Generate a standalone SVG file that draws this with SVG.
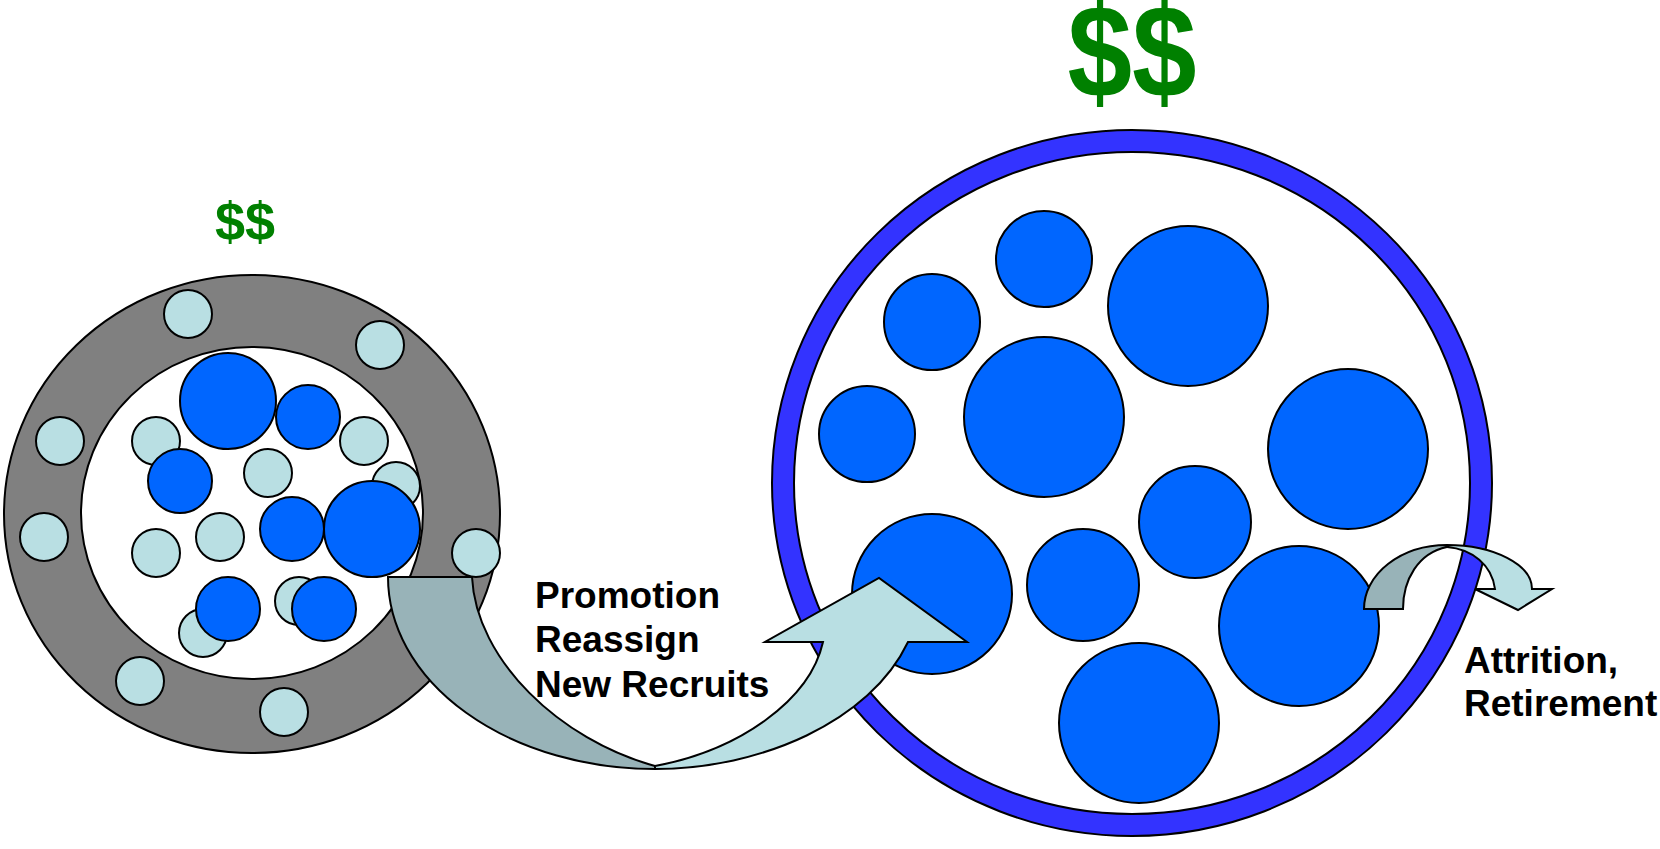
<svg xmlns="http://www.w3.org/2000/svg" width="1660" height="849" viewBox="0 0 1660 849">
  <style>
    .ln { stroke: #000; stroke-width: 2; }
    .gray { fill: #808080; }
    .white { fill: #FFFFFF; }
    .lite { fill: #B9DFE3; }
    .blue { fill: #0066FF; }
    .ring { fill: #3333FF; }
    .back { fill: #98B3B8; }
    .money { font-family: "Liberation Sans", Arial, sans-serif; font-weight: bold; fill: #008000; text-anchor: middle; }
    .lbl { font-family: "Liberation Sans", Arial, sans-serif; font-weight: bold; font-size: 37px; fill: #000; }
  </style>

  <rect width="1660" height="849" fill="#FFFFFF"/>

  <!-- small pool: grey outer band with inner core -->
  <g id="small-pool">
    <text class="money" x="245" y="240" font-size="54">$$</text>
    <ellipse class="gray ln" cx="252" cy="514" rx="248" ry="239"/>
    <ellipse class="white ln" cx="252" cy="513" rx="171" ry="166"/>
    <!-- outer band members -->
    <circle class="lite ln" cx="188" cy="314" r="24"/>
    <circle class="lite ln" cx="380" cy="345" r="24"/>
    <circle class="lite ln" cx="60" cy="441" r="24"/>
    <circle class="lite ln" cx="44" cy="537" r="24"/>
    <circle class="lite ln" cx="476" cy="553" r="24"/>
    <circle class="lite ln" cx="140" cy="681" r="24"/>
    <circle class="lite ln" cx="284" cy="712" r="24"/>
    <!-- core members -->
    <circle class="lite ln" cx="156" cy="441" r="24"/>
    <circle class="lite ln" cx="364" cy="441" r="24"/>
    <circle class="lite ln" cx="268" cy="473" r="24"/>
    <circle class="lite ln" cx="396" cy="486" r="24"/>
    <circle class="lite ln" cx="156" cy="553" r="24"/>
    <circle class="lite ln" cx="220" cy="537" r="24"/>
    <circle class="lite ln" cx="203" cy="633" r="24"/>
    <circle class="lite ln" cx="299" cy="601" r="24"/>
    <circle class="blue ln" cx="228" cy="401" r="48"/>
    <circle class="blue ln" cx="308" cy="417" r="32"/>
    <circle class="blue ln" cx="180" cy="481" r="32"/>
    <circle class="blue ln" cx="292" cy="529" r="32"/>
    <circle class="blue ln" cx="372" cy="529" r="48"/>
    <circle class="blue ln" cx="228" cy="609" r="32"/>
    <circle class="blue ln" cx="324" cy="609" r="32"/>
  </g>

  <!-- large pool: blue ring -->
  <g id="large-pool">
    <text class="money" font-size="116" transform="translate(1132,97) scale(1,1.13)">$$</text>
    <ellipse class="ring ln" cx="1132" cy="483" rx="360" ry="353"/>
    <ellipse class="white ln" cx="1132" cy="483" rx="338" ry="331"/>
    <circle class="blue ln" cx="1044" cy="259" r="48"/>
    <circle class="blue ln" cx="1188" cy="306" r="80"/>
    <circle class="blue ln" cx="932" cy="322" r="48"/>
    <circle class="blue ln" cx="1044" cy="417" r="80"/>
    <circle class="blue ln" cx="867" cy="434" r="48"/>
    <circle class="blue ln" cx="1348" cy="449" r="80"/>
    <circle class="blue ln" cx="1195" cy="522" r="56"/>
    <circle class="blue ln" cx="932" cy="594" r="80"/>
    <circle class="blue ln" cx="1083" cy="585" r="56"/>
    <circle class="blue ln" cx="1299" cy="626" r="80"/>
    <circle class="blue ln" cx="1139" cy="723" r="80"/>
  </g>

  <!-- flows between pools -->
  <g id="connectors">
    <g id="promotion-arrow">
      <path class="back ln" d="M388,577 L472,577 C476,660 560,740 655,766 L655,769 A267,192 0 0 1 388,577 Z"/>
      <path class="lite ln" d="M655,766 C740,750 810,700 823,642 L765,642 L879,578 L967,642 L908,642 C870,722 760,769 655,769 Z"/>
    </g>
    <g id="attrition-arrow">
      <path class="back ln" d="M1364,609 L1403,609 C1403,580 1418,553 1447,547 L1447,545 A83,64 0 0 0 1364,609 Z"/>
      <path class="lite ln" d="M1447,545 A85,44 0 0 1 1532,589 L1552,589 L1518,610 L1475,589 L1495,589 C1492,565 1472,549 1447,547 Z"/>
    </g>
  </g>

  <g id="labels">
    <text class="lbl" x="535" y="608">Promotion</text>
    <text class="lbl" x="535" y="652">Reassign</text>
    <text class="lbl" x="535" y="697">New Recruits</text>
    <text class="lbl" x="1464" y="673">Attrition,</text>
    <text class="lbl" x="1464" y="716">Retirement</text>
  </g>
</svg>
